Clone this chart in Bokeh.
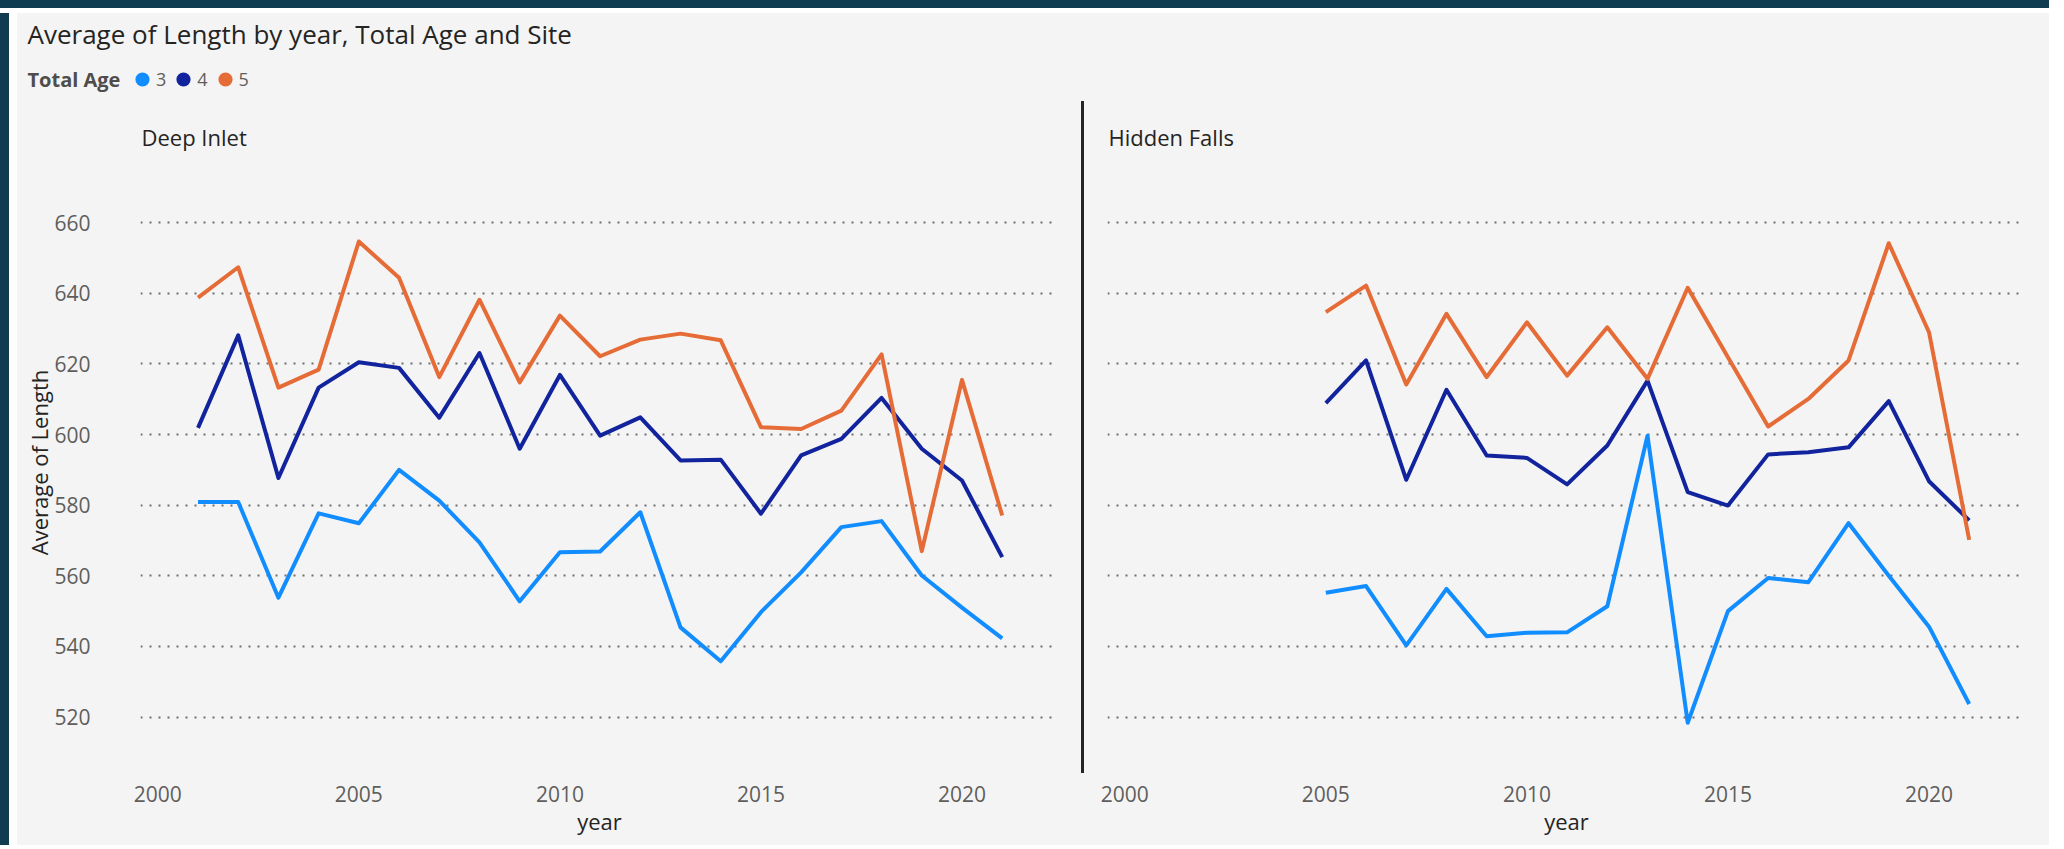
from bokeh.plotting import figure
from bokeh.models import Range1d, FixedTicker, Legend, LegendItem, Label, Spacer
from bokeh.layouts import row, column
from bokeh.embed import file_html
from bokeh.resources import INLINE

# ---------------- data ----------------
chart_title = "Average of Length by year, Total Age and Site"
legend_title = "Total Age"
ages = ["3", "4", "5"]
age_colors = ["#118DFF", "#12239E", "#E66C37"]
sites = ["Deep Inlet", "Hidden Falls"]
x_ticks = [2000, 2005, 2010, 2015, 2020]
y_ticks = [520, 540, 560, 580, 600, 620, 640, 660]
x_title = "year"
y_title = "Average of Length"

deep_years = [2001, 2002, 2003, 2004, 2005, 2006, 2007, 2008, 2009, 2010, 2011,
              2012, 2013, 2014, 2015, 2016, 2017, 2018, 2019, 2020, 2021]
deep_age3 = [580.9, 580.9, 553.8, 577.7, 574.9, 590.0, 581.3, 569.5, 552.8, 566.7, 566.9,
             578.0, 545.4, 535.8, 549.7, 561.0, 573.8, 575.5, 560.1, 551.0, 542.3]
deep_age4 = [601.9, 628.1, 587.7, 613.3, 620.5, 618.9, 604.8, 623.1, 596.0, 616.9, 599.7,
             604.9, 592.7, 592.9, 577.6, 594.1, 598.8, 610.4, 596.0, 587.0, 565.3]
deep_age5 = [638.8, 647.4, 613.3, 618.4, 654.7, 644.4, 616.3, 638.2, 614.8, 633.7, 622.2,
             626.9, 628.6, 626.7, 602.1, 601.6, 606.8, 622.7, 567.0, 615.5, 577.1]

hidden_years = [2005, 2006, 2007, 2008, 2009, 2010, 2011, 2012, 2013, 2014, 2015,
                2016, 2017, 2018, 2019, 2020, 2021]
hidden_age3 = [555.2, 557.1, 540.3, 556.3, 542.9, 543.9, 544.0, 551.4, 599.7, 518.4, 550.0,
               559.4, 558.2, 574.9, 560.0, 545.6, 523.7]
hidden_age4 = [608.9, 621.0, 587.2, 612.7, 594.1, 593.4, 585.9, 596.9, 615.3, 583.7, 579.9,
               594.4, 595.0, 596.4, 609.5, 586.8, 575.7]
hidden_age5 = [634.7, 642.2, 614.2, 634.2, 616.3, 631.8, 616.7, 630.4, 615.8, 641.6, 621.9,
               602.3, 610.1, 621.0, 654.2, 629.0, 570.2]

# ---------------- style ----------------
BG = "#F4F4F4"
FRAME_BG = "#103C52"
FONT = "Open Sans"
DARK = "#252423"
GREY = "#605E5C"
X_RANGE = (1999.57, 2022.40)
Y_RANGE = (504.3, 679.9)
PAGE_W = 2049
CONTENT_W = PAGE_W - 17
HEADER_H = 88
PANEL_H = 744
TOP = 51
BOTTOM = 73


def base_fig(width, height, min_left, min_right, min_top, min_bottom, **kw):
    return figure(width=width, height=height, toolbar_location=None, output_backend="svg",
                  min_border_left=min_left, min_border_right=min_right,
                  min_border_top=min_top, min_border_bottom=min_bottom,
                  background_fill_color=BG, border_fill_color=BG,
                  outline_line_color=None, **kw)


def make_panel(site, years, series, width, min_left, min_right, show_y):
    p = base_fig(width, PANEL_H, min_left, min_right, TOP, BOTTOM,
                 x_range=Range1d(*X_RANGE), y_range=Range1d(*Y_RANGE), title=site)
    p.title.text_font = FONT
    p.title.text_font_size = "22px"
    p.title.text_font_style = "normal"
    p.title.text_color = DARK
    p.title.align = "left"
    p.title.vertical_align = "middle"
    p.title.offset = 1
    p.title.standoff = 0
    xa = p.xaxis[0]
    xa.ticker = FixedTicker(ticks=x_ticks)
    xa.axis_line_color = None
    xa.major_tick_line_color = None
    xa.minor_tick_line_color = None
    xa.major_label_text_font = FONT
    xa.major_label_text_font_size = "21px"
    xa.major_label_text_color = GREY
    xa.major_label_standoff = 7
    xa.axis_label = x_title
    xa.axis_label_text_font = FONT
    xa.axis_label_text_font_size = "22px"
    xa.axis_label_text_font_style = "normal"
    xa.axis_label_text_color = DARK
    xa.axis_label_standoff = 1
    ya = p.yaxis[0]
    ya.ticker = FixedTicker(ticks=y_ticks)
    if show_y:
        ya.axis_line_color = None
        ya.major_tick_line_color = None
        ya.minor_tick_line_color = None
        ya.major_label_text_font = FONT
        ya.major_label_text_font_size = "21px"
        ya.major_label_text_color = GREY
        ya.major_label_standoff = 44
        ya.axis_label = y_title
        ya.axis_label_text_font = FONT
        ya.axis_label_text_font_size = "22px"
        ya.axis_label_text_font_style = "normal"
        ya.axis_label_text_color = DARK
        ya.axis_label_standoff = -3
    else:
        ya.visible = False
    p.xgrid.visible = False
    p.ygrid.ticker = FixedTicker(ticks=y_ticks)
    p.ygrid.grid_line_color = "#6E6E6E"
    p.ygrid.grid_line_width = 2
    p.ygrid.grid_line_dash = "2 7"
    for vals, c in zip(series, age_colors):
        p.line(years, vals, line_color=c, line_width=4, line_join="round")
    return p


# header: chart title + legend
header = base_fig(CONTENT_W, HEADER_H, 0, 0, 0, 0,
                  x_range=Range1d(0, CONTENT_W), y_range=Range1d(0, HEADER_H),
                  x_axis_location=None, y_axis_location=None)
header.grid.visible = False
header.add_layout(Label(x=10, y=HEADER_H - 20, text=chart_title, text_font=FONT,
                        text_font_size="26px", text_color=DARK,
                        text_baseline="middle", text_align="left"))
header.add_layout(Label(x=10, y=HEADER_H - 66, text=legend_title, text_font=FONT,
                        text_font_size="20px", text_font_style="bold", text_color="#4F4D4B",
                        text_baseline="middle", text_align="left"))

nan = float("nan")
proxies = []
for a, c in zip(ages, age_colors):
    proxies.append(header.scatter(x=[nan], y=[nan], marker="circle", size=12,
                                  fill_color=c, line_color=c, line_width=3))
legend = Legend(items=[LegendItem(label=a, renderers=[r]) for a, r in zip(ages, proxies)],
                location=(111, 8), orientation="horizontal",
                label_text_font=FONT, label_text_font_size="18px",
                label_text_color=GREY, label_standoff=0, label_width=10,
                glyph_width=28, glyph_height=28, spacing=3,
                padding=0, margin=0,
                background_fill_alpha=0, border_line_alpha=0)
header.add_layout(legend, "center")

left = make_panel(sites[0], deep_years, [deep_age3, deep_age4, deep_age5], 1055, 123, 14, True)
right = make_panel(sites[1], hidden_years, [hidden_age3, hidden_age4, hidden_age5],
                   PAGE_W - 1092, 15, PAGE_W - 1092 - 15 - 918, False)

# vertical divider between the two site panels
divider = Spacer(width=20, height=PANEL_H, styles={
    "background-color": BG,
    "background-image": f"linear-gradient({DARK}, {DARK})",
    "background-repeat": "no-repeat",
    "background-size": "3px 672px",
    "background-position": "9px 0px",
})

panels = row(left, divider, right, styles={"background-color": BG})
content = column(header, panels, styles={"background-color": BG})
root = column(
    Spacer(width=PAGE_W, height=8, styles={"background-color": FRAME_BG}),
    Spacer(width=PAGE_W, height=5),
    row(Spacer(width=9, height=HEADER_H + PANEL_H, styles={"background-color": FRAME_BG}),
        Spacer(width=8, height=HEADER_H + PANEL_H),
        content),
)

open("out.html", "w").write(file_html(root, INLINE))
